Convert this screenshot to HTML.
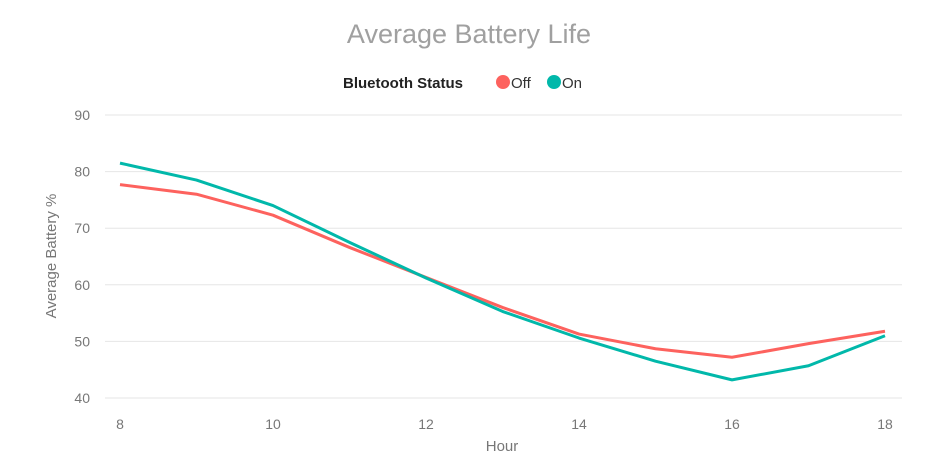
<!DOCTYPE html>
<html><head><meta charset="utf-8"><style>
body{margin:0;background:#fff;font-family:"Liberation Sans",sans-serif;}
svg{display:block}
</style></head><body>
<svg id="chart" width="944" height="474">
<text x="469" y="43" text-anchor="middle" font-size="27" fill="#a0a0a0">Average Battery Life</text>
<g>
<text x="343" y="88" font-size="15" font-weight="bold" fill="#222">Bluetooth Status</text>
<circle cx="503" cy="82" r="7" fill="#fd625e"/>
<text x="511" y="88" font-size="15" fill="#333">Off</text>
<circle cx="554" cy="82" r="7" fill="#01b8aa"/>
<text x="562" y="88" font-size="15" fill="#333">On</text>
</g>
<g id="grid"></g>
<g id="axes"></g>
<g id="lines"></g>
<text x="502" y="451" text-anchor="middle" font-size="15" fill="#777">Hour</text>
<text transform="translate(56,256) rotate(-90)" text-anchor="middle" font-size="15" fill="#777">Average Battery %</text>
</svg>
<script>
const hours=[8,9,10,11,12,13,14,15,16,17,18];
const offValues=[77.7,76,72.3,66.6,61.3,56,51.3,48.7,47.2,49.6,51.8];
const onValues=[81.5,78.5,74,67.5,61.2,55.3,50.6,46.5,43.2,45.7,51];
const yTicks=[40,50,60,70,80,90];
const xTicks=[8,10,12,14,16,18];
const NS="http://www.w3.org/2000/svg";
const xS=v=>120+(v-8)*(885-120)/10;
const yS=v=>398-(v-40)*(398-115)/50;
const grid=document.getElementById('grid'),axes=document.getElementById('axes'),lines=document.getElementById('lines');
function mk(t,a,p){const e=document.createElementNS(NS,t);for(const k in a)e.setAttribute(k,a[k]);p.appendChild(e);return e;}
yTicks.forEach(v=>{
 const l=mk('line',{x1:105,x2:902,y1:yS(v),y2:yS(v),stroke:'#e6e6e6','stroke-width':1},grid);
 
 
 const t=mk('text',{x:90,y:yS(v)+5,'text-anchor':'end','font-size':14,fill:'#777'},axes);
 t.textContent=v;
 
 
});
xTicks.forEach(v=>{
 const t=mk('text',{x:xS(v),y:429,'text-anchor':'middle','font-size':14,fill:'#777'},axes);
 t.textContent=v;
 
 
});
function line(vals,color,name){
 const p=mk('polyline',{points:vals.map((v,i)=>xS(hours[i])+','+yS(v)).join(' '),fill:'none',stroke:color,'stroke-width':3,'stroke-linejoin':'round'},lines);
 
 
}
line(offValues,'#fd625e','line-off');
line(onValues,'#01b8aa','line-on');
</script>
</body></html>
